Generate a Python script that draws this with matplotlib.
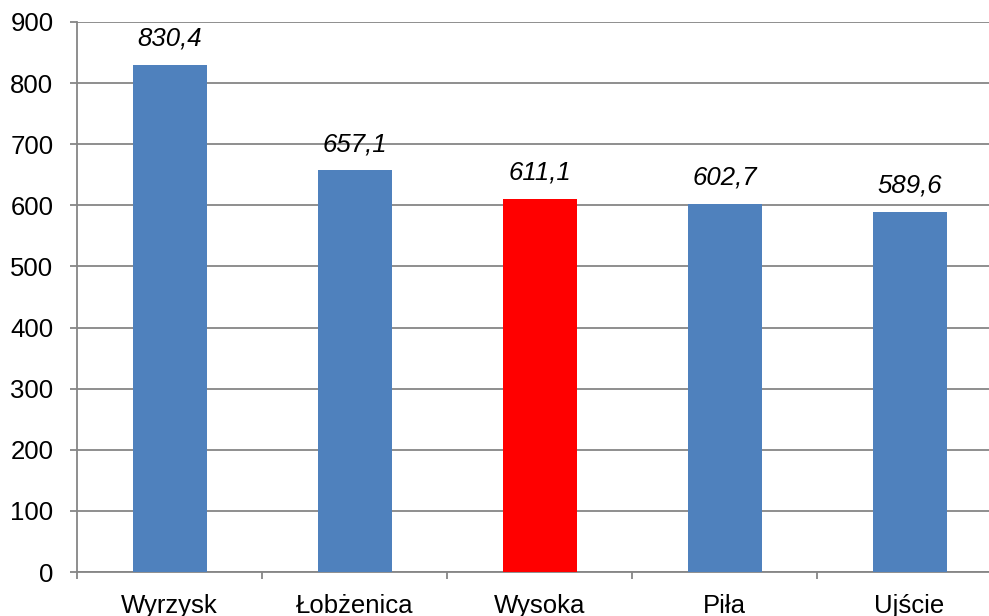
import matplotlib.pyplot as plt
import numpy as np

plt.rcParams['font.family'] = ['Liberation Sans', 'DejaVu Sans']

towns = ['Wyrzysk', 'Łobżenica', 'Wysoka', 'Piła', 'Ujście']
values = [830.4, 657.1, 611.1, 602.7, 589.6]
colors = ['#4F81BD', '#4F81BD', '#FF0000', '#4F81BD', '#4F81BD']

grey = '#868686'
fs = 18.5

fig = plt.figure(figsize=(9.89, 6.16), dpi=100)
ax = fig.add_axes([0.0779, 0.0714, 0.9353, 0.8929])

x = np.arange(len(towns))
bars = ax.bar(x, values, width=0.4, color=colors, zorder=3)

# value labels above each bar, decimal comma
for b, v in zip(bars, values):
    ax.annotate(f'{v:.1f}'.replace('.', ','), (b.get_x() + b.get_width() / 2, v),
                xytext=(0, 10), textcoords='offset points', ha='center', va='bottom',
                fontsize=fs, style='italic')

ax.set_xlim(-0.5, len(towns) - 0.5)
ax.set_ylim(0, 900)
ax.set_yticks(range(0, 901, 100))
ax.set_xticks(x)
ax.set_xticklabels(towns)
ax.set_xticks(np.arange(-0.5, len(towns)), minor=True)

ax.grid(axis='y', color=grey, linewidth=1.3, zorder=0)
ax.tick_params(axis='y', length=5, width=1.3, color=grey, pad=12, labelsize=fs)
ax.tick_params(axis='x', which='major', length=0, pad=16, labelsize=fs)
ax.tick_params(axis='x', which='minor', length=5, width=1.3, color=grey)

for side in ['top', 'right']:
    ax.spines[side].set_visible(False)
for side in ['left', 'bottom']:
    ax.spines[side].set_color(grey)
    ax.spines[side].set_linewidth(1.3)

fig.savefig('out.png', dpi=100)
